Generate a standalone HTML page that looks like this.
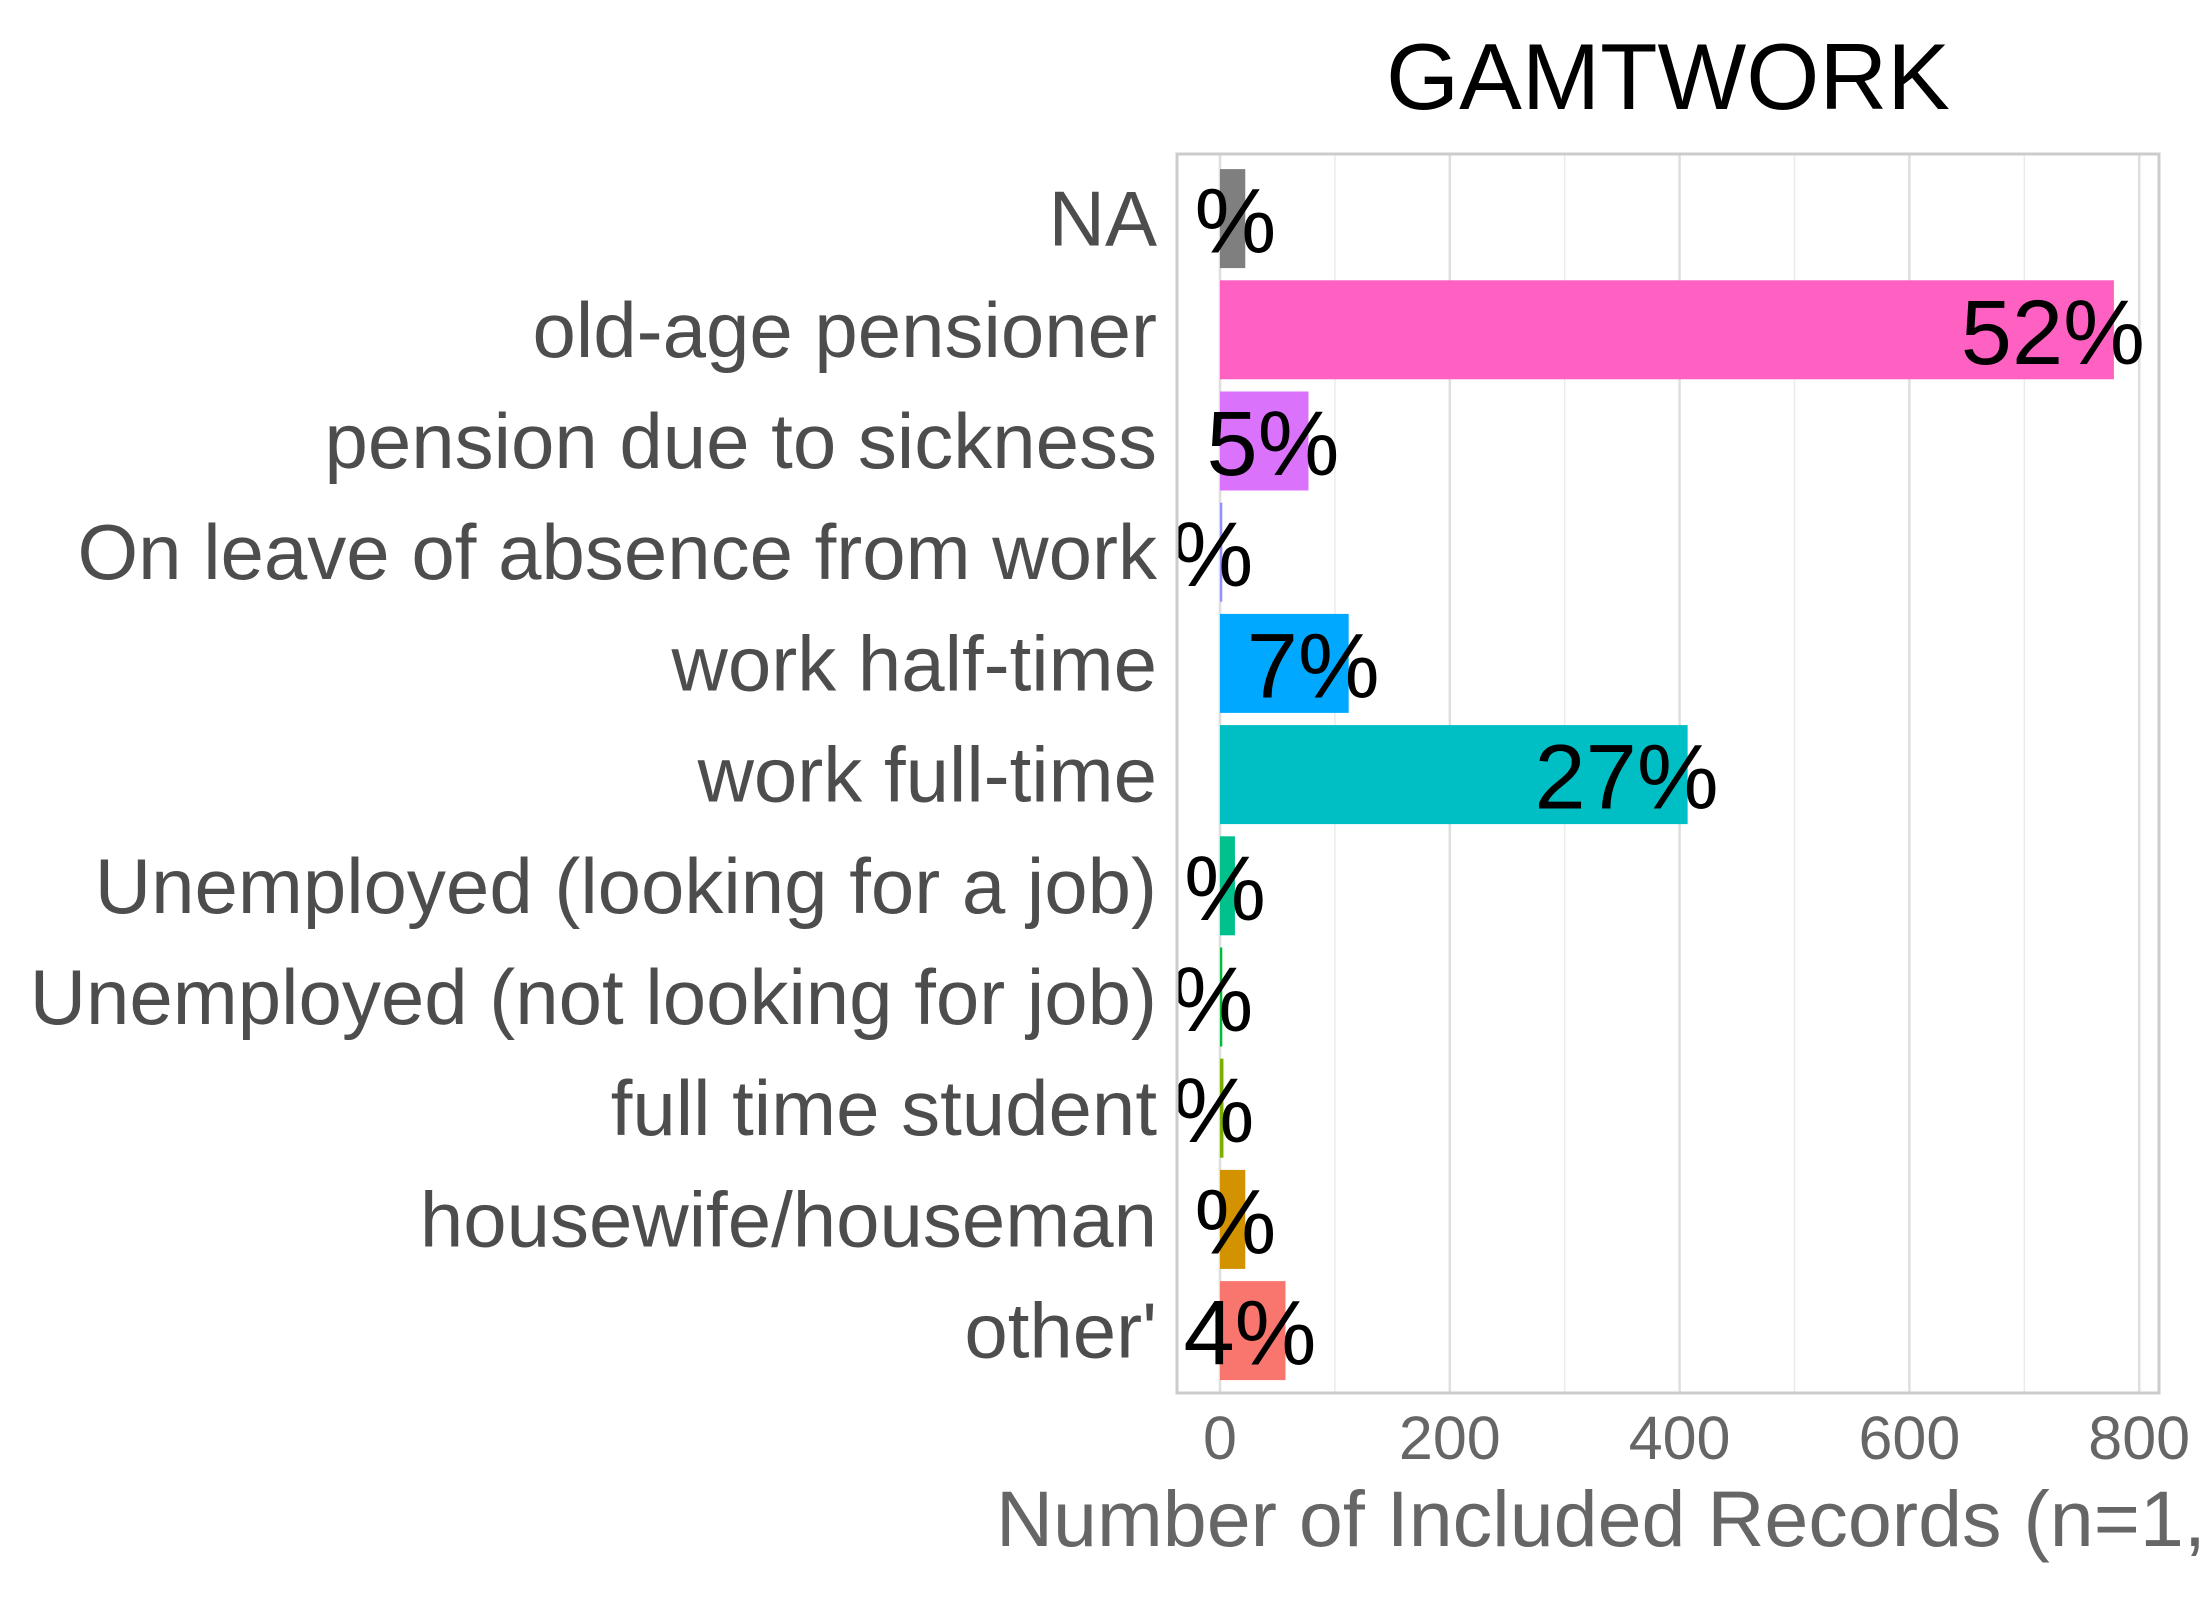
<!DOCTYPE html>
<html><head><meta charset="utf-8"><style>
html,body{margin:0;padding:0;background:#fff;}
svg{display:block;font-family:"Liberation Sans",Arial,sans-serif;}
</style></head><body>
<svg id="chart" width="2200" height="1600" viewBox="0 0 2200 1600">
<defs><clipPath id="pclip"><rect x="1177" y="154" width="982" height="1239"/></clipPath></defs>
<text x="1668" y="109" font-size="94" text-anchor="middle" fill="#000">GAMTWORK</text>
<g id="grid"></g>
<g id="bars" clip-path="url(#pclip)"></g>
<rect x="1177" y="154" width="982" height="1239" fill="none" stroke="#cccccc" stroke-width="3"/>
<g id="ylabels"></g>
<g id="xticks"></g>
<text x="996" y="1546" font-size="79" fill="#666666">Number of Included Records (n=1,490)</text>
</svg>
<script>
const categories = ["NA","old-age pensioner","pension due to sickness","On leave of absence from work","work half-time","work full-time","Unemployed (looking for a job)","Unemployed (not looking for job)","full time student","housewife/houseman","other'"];
const counts = [22,778,77,2,112,407,13,2,3,22,57];
const pctLabels = ["%","52%","5%","%","7%","27%","%","%","%","%","4%"];
const colors = ["#7f7f7f","#FF61C3","#DB72FB","#9590FF","#00A9FF","#00BFC4","#00C08B","#00BA38","#7CAE00","#D39200","#F8766D"];
const xTicks = [0,200,400,600,800];
const minorTicks = [100,300,500,700];

const NS="http://www.w3.org/2000/svg";
const x0=1220, pxPer=1.149;
const xs=v=>x0+v*pxPer;
const rowTop=163, rowH=111.2;
const yc=i=>rowTop+rowH*(i+0.5);
const barH=99;
function mk(t,a,p){const e=document.createElementNS(NS,t);for(const k in a)e.setAttribute(k,a[k]);p.appendChild(e);return e;}
const grid=document.getElementById('grid');
minorTicks.forEach(v=>{
  const l=mk('line',{x1:xs(v),x2:xs(v),y1:154,y2:1393,stroke:'#ebebeb','stroke-width':1.5},grid);
  
  
});
xTicks.forEach(v=>{
  const l=mk('line',{x1:xs(v),x2:xs(v),y1:154,y2:1393,stroke:'#dedede','stroke-width':2.5},grid);
  
  
});
const xt=document.getElementById('xticks');
xTicks.forEach(v=>{
  const t=mk('text',{x:xs(v),y:1459,'font-size':61,'text-anchor':'middle',fill:'#666666'},xt);
  t.textContent=v;
  
  
});
const bars=document.getElementById('bars'), yl=document.getElementById('ylabels');
categories.forEach((c,i)=>{
  const r=mk('rect',{x:xs(0),y:yc(i)-barH/2,width:Math.max(counts[i]*pxPer,1.5),height:barH,fill:colors[i]},bars);
  
  
  const t=mk('text',{x:xs(counts[i])+31,y:yc(i)+34,'font-size':92,fill:'#000','text-anchor':'end'},bars);
  t.textContent=pctLabels[i];
  
  
  const lab=mk('text',{x:1157,y:yc(i)+27,'font-size':78,'text-anchor':'end',fill:'#4d4d4d'},yl);
  lab.textContent=c;
  
  
});
</script>
</body></html>
